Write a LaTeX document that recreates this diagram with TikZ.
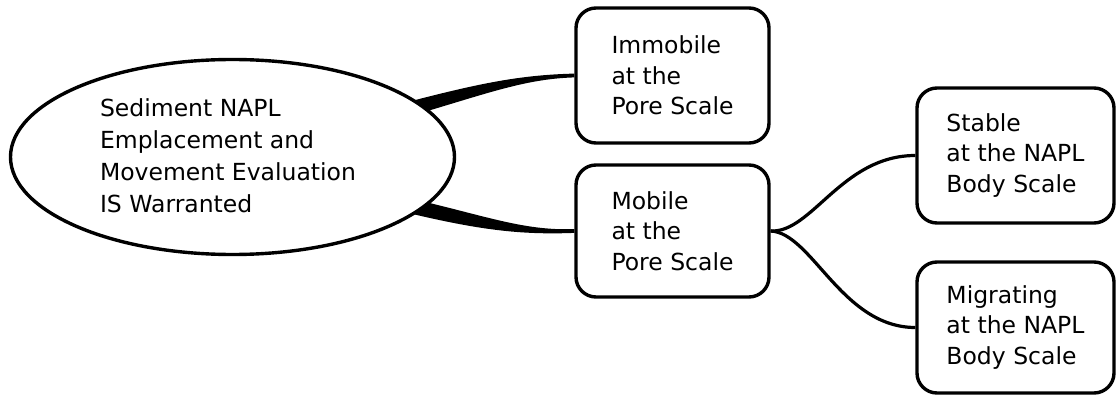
\documentclass[tikz,border=0pt]{standalone}
\usepackage{fontspec}
\newfontfamily\dvfont{DejaVu Sans}
\usetikzlibrary{shapes.geometric,calc}
\tikzset{
  box/.style={draw, line width=3.4pt, rounded corners=20pt, align=left, inner sep=0pt, fill=white,
    font=\dvfont\fontsize{23.5}{30.5}\selectfont},
  elltext/.style={align=left, inner sep=0pt, font=\dvfont\fontsize{23.5}{32}\selectfont},
  thinlink/.style={line width=3.2pt},
}
\begin{document}
\begin{tikzpicture}[x=1pt,y=-1pt]
\useasboundingbox (0,0) rectangle (1116,395);
% nodes
\node[box, minimum width=193pt, minimum height=135pt] (imm) at (672.5,75.5) {Immobile\\at the\\Pore Scale};
\node[box, minimum width=193pt, minimum height=132pt] (mob) at (672.5,231) {Mobile\\at the\\Pore Scale};
\node[box, minimum width=197pt, minimum height=135pt] (stab) at (1015.5,155.5) {Stable\\at the NAPL\\Body Scale};
\node[box, minimum width=197pt, minimum height=131pt] (mig) at (1015.5,327.5) {Migrating\\at the NAPL\\Body Scale};
% tapered connectors from the ellipse
\coordinate (ua) at (400,104);
\coordinate (ub) at (400,119);
\coordinate (la) at (400,196);
\coordinate (lb) at (400,211);
\fill (ua) .. controls (480,83) and (520,75) .. ($(imm.west)+(0,-1.9)$)
      -- ($(imm.west)+(0,1.9)$) .. controls (522,79) and (484,95) .. (ub) -- cycle;
\fill (la) .. controls (484,215) and (522,231) .. ($(mob.west)+(0,-1.9)$)
      -- ($(mob.west)+(0,1.9)$) .. controls (520,235) and (478,230) .. (lb) -- cycle;
% ellipse
\node[ellipse, draw, line width=3.4pt, fill=white, minimum width=444pt, minimum height=195pt, inner sep=0pt] (ell) at (232.5,157) {};
\node[elltext] (elltxt) at (228,156) {Sediment NAPL\\Emplacement and\\Movement Evaluation\\IS Warranted};
% thin S-curves
\draw[thinlink] (mob.east) .. controls (812,233) and (842,155.5) .. (stab.west);
\draw[thinlink] (mob.east) .. controls (812,233) and (842,327.5) .. (mig.west);
\end{tikzpicture}
\end{document}
